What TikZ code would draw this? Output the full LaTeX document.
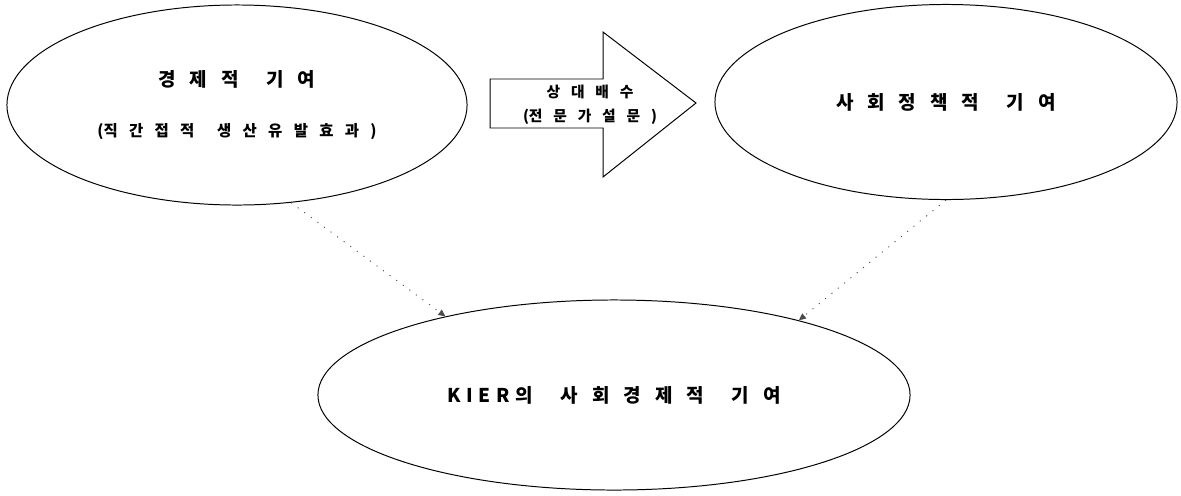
\documentclass[tikz,border=0pt]{standalone}
\usepackage{fontspec}
\newfontfamily\kr{Noto Sans CJK KR}[WordSpace=3.2]
\usetikzlibrary{arrows.meta,shapes.geometric}

\begin{document}
\begin{tikzpicture}[x=0.025cm, y=-0.025cm, >={Triangle[length=5pt,width=4.5pt]},
    bubble/.style={draw, ellipse, line width=0.7pt, inner sep=0pt, align=center,
        font=\kr\bfseries\fontsize{13.5}{16}\selectfont},
    link/.style={->, gray!60!black, line width=0.6pt, dash pattern=on 0.8pt off 5pt}]
    % 그림 영역 (원본 1181x495)
    \useasboundingbox (0,0) rectangle (1181,495);

    % 세 개의 타원
    \node[bubble, minimum width=11.5cm, minimum height=5cm] (econ) at (237,105)
        {경 제 적 \ 기 여\\[19pt]{\fontsize{11}{14}\selectfont (직 간 접 적 \ 생 산 유 발 효 과 )}};
    \node[bubble, minimum width=11.55cm, minimum height=4.875cm] (social) at (946,102)
        {사 회 정 책 적 \ 기 여};
    \node[bubble, minimum width=14.8cm, minimum height=4.75cm] (kier) at (614,395)
        {K\hspace{0.3em}I\hspace{0.3em}E\hspace{0.3em}R\hspace{0.3em}의 \ 사 회 경 제 적 \ 기 여};

    % 블록 화살표 (상대배수)
    \draw[line width=0.7pt] (490,79) -- (603,79) -- (603,32) -- (696,103)
        -- (603,177) -- (603,128) -- (490,128) -- cycle;
    \node[align=center, font=\kr\bfseries\fontsize{10.5}{17}\selectfont] (mult) at (590,105)
        {상 대 배 수\\(전 문 가 설 문 )};

    % 점선 연결
    \draw[link] (econ.-61) -- (kier.155);
    \draw[link] (social.-90) -- (kier.22);
\end{tikzpicture}
\end{document}
